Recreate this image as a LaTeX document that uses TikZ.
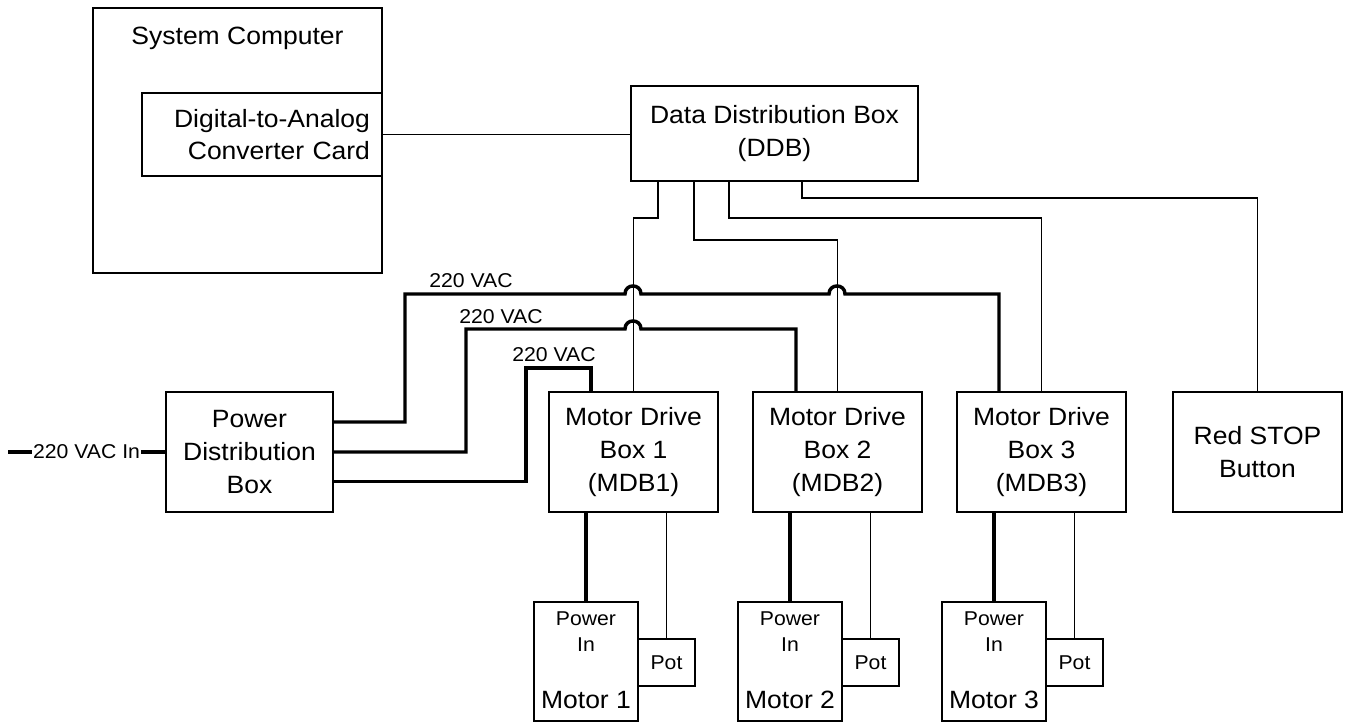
\documentclass[tikz,border=0pt]{standalone}
\usepackage{fontspec}
\setmainfont{Liberation Sans}[FakeStretch=1.06]
\newcommand\fbig{\fontsize{18.75}{24.5}\selectfont}
\newcommand\fsmall{\fontsize{15}{19.5}\selectfont}
\begin{document}
\begin{tikzpicture}[x=0.75pt,y=-0.75pt,
  box/.style={draw,line width=1.25pt,inner sep=0pt,align=center,font=\fbig},
  data/.style={line width=1.25pt},
  power/.style={line width=2.6pt},
  lbl/.style={font=\fsmall,inner sep=0pt,align=center},
  big/.style={font=\fbig,inner sep=0pt,align=center}]
\useasboundingbox (0,0) rectangle (1345,723);

% computer
\node[box,minimum width=216.75pt,minimum height=198.75pt] (sys) at (237.5,140.5) {};
\node[big] (systxt) at (237.5,38) {System Computer};
\node[box,minimum width=180pt,minimum height=62.25pt,text width=162pt,align=right] (dac) at (262,134.5) {Digital-to-Analog\\Converter Card};

% data distribution box
\node[box,minimum width=215.25pt,minimum height=71.25pt] (ddb) at (774.5,133.5) {Data Distribution Box\\(DDB)};

% power distribution box
\node[box,minimum width=125.25pt,minimum height=90pt] (pdb) at (249.5,452) {Power\\Distribution\\Box};

% motor drive boxes, motors, pots
\foreach \i/\dx in {1/0,2/204,3/408}{
  \node[box,minimum width=126.75pt,minimum height=90pt] (mdb\i) at (633.5+\dx,452) {Motor Drive\\Box \i\\(MDB\i)};
  \node[box,minimum width=78pt,minimum height=89.25pt] (mot\i) at (586+\dx,661.5) {};
  \node[lbl] (pin\i) at (586+\dx,632) {Power\\In};
  \node[big] (mname\i) at (586+\dx,700) {Motor \i};
  \node[box,font=\fsmall,minimum width=42.75pt,minimum height=35.25pt] (pot\i) at (666.5+\dx,662.5) {Pot};
  \draw[power] (mdb\i.south -| mot\i.north) -- (mot\i.north);
  \draw[data] (mdb\i.south -| pot\i.north) -- (pot\i.north);
}

% stop button
\node[box,minimum width=126.75pt,minimum height=90pt] (stop) at (1257.5,452) {Red STOP\\Button};

% data connectors
\draw[data] (dac.east) -- (dac.east -| ddb.west);
\draw[data] (658,0 |- ddb.south) -- (658,218) -| (mdb1.north);
\draw[data] (694,0 |- ddb.south) -- (694,240) -| (mdb2.north);
\draw[data] (729,0 |- ddb.south) -- (729,218) -| (mdb3.north);
\draw[data] (802,0 |- ddb.south) -- (802,198) -| (stop.north);

% power connectors
\draw[power] (pdb.east |- 0,422) -- (405,422) -- (405,294) -- (625,294)
  .. controls (625,283.3) and (641,283.3) .. (641,294) -- (829,294)
  .. controls (829,283.3) and (845,283.3) .. (845,294) -- (999,294)
  -- (999,0 |- mdb3.north);
\draw[power] (pdb.east) -- (466,452) -- (466,329) -- (625,329)
  .. controls (625,318.3) and (641,318.3) .. (641,329) -- (796,329)
  -- (796,0 |- mdb2.north);
\draw[power] (pdb.east |- 0,481.5) -- (526,481.5) -- (526,368) -- (591,368)
  -- (591,0 |- mdb1.north);

\node[lbl] (v1) at (471,281) {220 VAC};
\node[lbl] (v2) at (501,317) {220 VAC};
\node[lbl] (v3) at (554,355) {220 VAC};

% input
\coordinate (ain) at (8,452);
\draw[power] (ain) -- node[lbl,fill=white,inner xsep=0.8pt] (vin) {220 VAC In} (pdb.west);
\end{tikzpicture}
\end{document}
